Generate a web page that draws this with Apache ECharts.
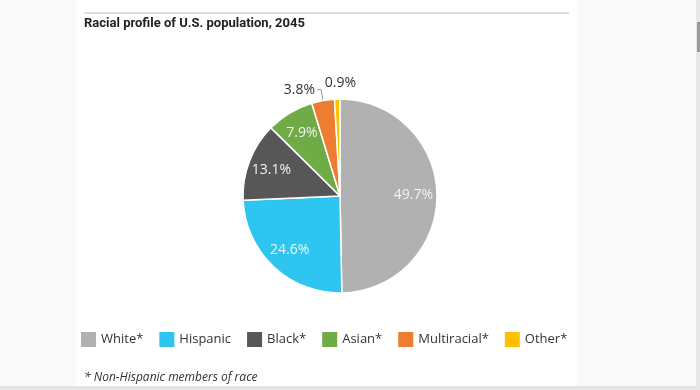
<!DOCTYPE html>
<html><head><meta charset="utf-8">
<script src="https://cdn.jsdelivr.net/npm/echarts@6/dist/echarts.min.js"></script>
<style>html,body{margin:0;padding:0;background:#fafafa;}#c{width:700px;height:390px;}</style>
</head><body><div id="c"></div>
<script>
const categories = ['White*', 'Hispanic', 'Black*', 'Asian*', 'Multiracial*', 'Other*'];
const values = [49.7, 24.6, 13.1, 7.9, 3.8, 0.9];
const colors = ['#b1b1b1', '#2ec5f1', '#575757', '#6fac45', '#ee7d31', '#fec100'];
const insideIdx = [0, 1, 2, 3];

const chart = echarts.init(document.getElementById('c'));
const font = 'Open Sans';
const data1 = categories.map((n, i) => ({
  name: n, value: values[i],
  itemStyle: { color: colors[i] },
  label: { show: i === 4 },
  labelLine: { show: i === 4 }
}));
const data2 = categories.map((n, i) => ({
  name: n, value: values[i],
  label: i === 5
    ? { show: true, position: 'outside', color: '#333' }
    : { show: insideIdx.includes(i) },
  labelLine: { show: false }
}));
chart.setOption({
  animation: false,
  backgroundColor: '#fafafa',
  graphic: [
    { type: 'rect', shape: { x: 76, y: 0, width: 501, height: 386 }, style: { fill: '#ffffff' }, z: -10 },
    { type: 'line', shape: { x1: 84, y1: 13, x2: 569, y2: 13 }, style: { stroke: '#bdbdbd', lineWidth: 1 } },
    { type: 'text', left: 84, top: 17, style: { text: 'Racial profile of U.S. population, 2045', font: 'bold 13px "Roboto"', fill: '#222' } },
    { type: 'text', left: 84, top: 372, style: { text: '* Non-Hispanic members of race', font: 'italic 12px "Open Sans"', fill: '#333' } },
    { type: 'rect', shape: { x: 0, y: 386, width: 700, height: 4 }, style: { fill: '#e4e4e4' } },
    { type: 'rect', shape: { x: 696, y: 0, width: 4, height: 390 }, style: { fill: '#e8e8e8' } },
    { type: 'rect', shape: { x: 697, y: 22, width: 3, height: 30 }, style: { fill: '#9a9a9a' } }
  ],
  legend: {
    data: categories,
    left: 76, top: 327,
    itemWidth: 15, itemHeight: 15, itemGap: 16,
    icon: 'rect',
    textStyle: { fontFamily: font, fontSize: 13, color: '#333' },
    itemStyle: { borderWidth: 0 }
  },
  series: [
    {
      type: 'pie', center: [340, 196], radius: [0, 97],
      startAngle: 90, clockwise: true,
      itemStyle: { borderColor: '#fff', borderWidth: 1.5 },
      label: { position: 'outside', formatter: '{c}%', fontFamily: font, fontSize: 14, color: '#333', distanceToLabelLine: 2 },
      labelLine: { length: 11, length2: 4, lineStyle: { color: '#999', width: 1 } },
      emphasis: { disabled: true },
      data: data1
    },
    {
      type: 'pie', center: [340, 196], radius: [44, 97],
      startAngle: 90, clockwise: true, silent: true,
      itemStyle: { color: 'rgba(0,0,0,0)', borderWidth: 0 },
      label: { position: 'inside', formatter: '{c}%', fontFamily: font, fontSize: 14, color: '#f2f2f2' },
      labelLine: { show: false, length: 6, length2: 0 },
      labelLayout: function (p) {
        if (p.dataIndex === 5) return { dx: 24, dy: -10 };
      },
      emphasis: { disabled: true },
      legendHoverLink: false,
      data: data2
    }
  ]
});
</script></body></html>
